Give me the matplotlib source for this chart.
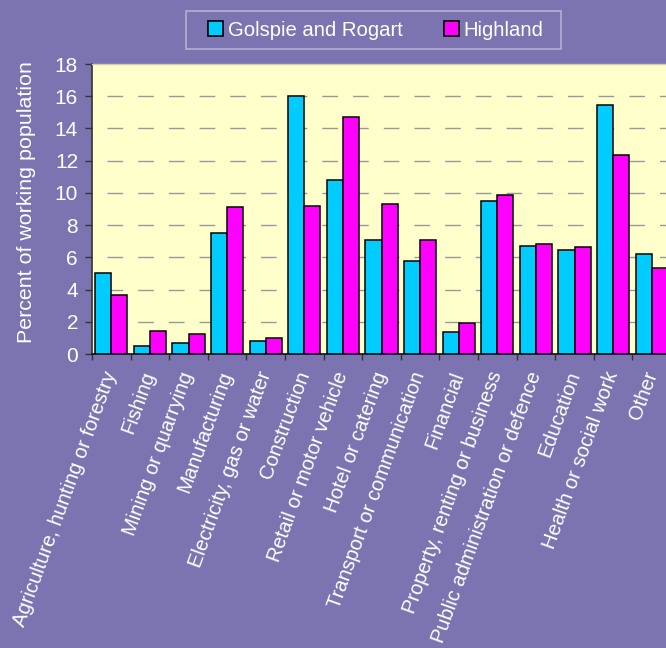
import matplotlib
matplotlib.use("Agg")
import matplotlib.pyplot as plt
import numpy as np
from matplotlib.patches import Patch, Rectangle

categories = [
    "Agriculture, hunting or forestry", "Fishing", "Mining or quarrying",
    "Manufacturing", "Electricity, gas or water", "Construction",
    "Retail or motor vehicle", "Hotel or catering", "Transport or communication",
    "Financial", "Property, renting or business", "Public administration or defence",
    "Education", "Health or social work", "Other",
]
golspie = [5.05, 0.5, 0.66, 7.53, 0.8, 16.0, 10.8, 7.1, 5.75, 1.35, 9.5, 6.72, 6.43, 15.45, 6.23]
highland = [3.66, 1.45, 1.26, 9.12, 1.0, 9.2, 14.7, 9.3, 7.1, 1.95, 9.89, 6.83, 6.62, 12.37, 5.32]
series_names = ["Golspie and Rogart", "Highland"]
yticks = [0, 2, 4, 6, 8, 10, 12, 14, 16, 18]

BG = "#7B74B1"
FACE = "#FFFFCC"
CYAN = "#00CCFF"
MAGENTA = "#FF00FF"
FONT = "Liberation Sans"

fig = plt.figure(figsize=(6.66, 6.48), dpi=100, facecolor=BG)
ax = fig.add_axes([92/666, 1-354/648, 579/666, 290/648])
ax.set_facecolor(FACE)

x = np.arange(len(categories))
w = 0.415
ax.bar(x - w/2, golspie, w, color=CYAN, edgecolor="black", linewidth=1.1, zorder=3)
ax.bar(x + w/2, highland, w, color=MAGENTA, edgecolor="black", linewidth=1.1, zorder=3)

ax.set_xlim(-0.5, len(categories) - 0.5)
ax.set_ylim(0, 18)
ax.set_yticks(yticks)
ax.set_yticklabels([str(v) for v in yticks], color="white", fontsize=15, family=FONT)
ax.tick_params(axis="y", direction="out", length=5, width=1, color="#333333", pad=5)

for v in yticks[1:-1]:
    ax.axhline(v, color="#999999", linewidth=1.0, linestyle=(11.3, (11.3, 10.8)), zorder=1)

ax.set_xticks(x)
ax.set_xticklabels(categories, rotation=70, ha="right", va="center",
                   rotation_mode="anchor", color="white", fontsize=14.5, family=FONT)
ax.tick_params(axis="x", which="major", length=0, pad=13)
ax.set_xticks(np.arange(-0.5, len(categories), 1.0), minor=True)
ax.tick_params(axis="x", which="minor", direction="out", length=4, width=1, color="#333333")

ax.spines["left"].set_color("#333333")
ax.spines["bottom"].set_color("#111111")
ax.spines["left"].set_linewidth(1.2)
ax.spines["bottom"].set_linewidth(1.2)
ax.spines["top"].set_color("#D0D0A8")
ax.spines["top"].set_linewidth(1.0)
ax.spines["right"].set_visible(False)

ax.set_ylabel("Percent of working population", color="white", fontsize=15.4, family=FONT)
ax.yaxis.set_label_coords(-56/579, 0.5 + 7/290)

# legend frame drawn explicitly
fig.patches.append(Rectangle((186/666, 1-49/648), 375/666, 38/648, transform=fig.transFigure,
                             fill=False, edgecolor="#B4B0D0", linewidth=1.2))
handles = [Patch(facecolor=CYAN, edgecolor="black", linewidth=1.2),
           Patch(facecolor=MAGENTA, edgecolor="black", linewidth=1.2)]
leg = fig.legend(handles, series_names, loc="center", bbox_to_anchor=(376/666, 1-30/648),
                 ncol=2, frameon=False, handlelength=0.7, handleheight=0.7,
                 handletextpad=0.25, columnspacing=2.07, borderpad=0.45,
                 prop={"family": FONT, "size": 14.6})
for t in leg.get_texts():
    t.set_color("white")

fig.savefig("out.png", dpi=100, facecolor=BG)
